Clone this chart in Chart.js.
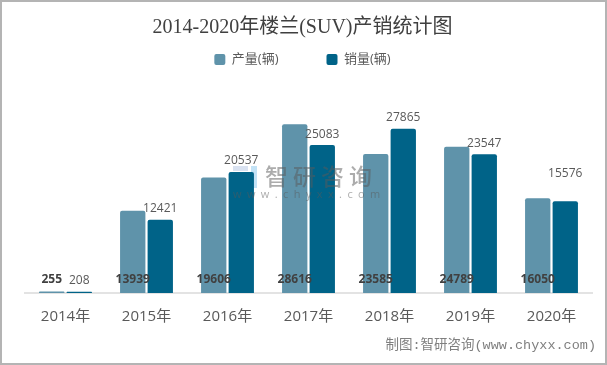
<!DOCTYPE html>
<html>
<head>
<meta charset="utf-8">
<style>
  html, body { margin: 0; padding: 0; background: #fff; overflow: hidden; }
  #wrap { width: 607px; height: 365px; }
</style>
</head>
<body>
<div id="wrap"><canvas id="myChart" width="607" height="365"></canvas></div>
<script src="https://cdn.jsdelivr.net/npm/chart.js@4/dist/chart.umd.min.js"></script>
<script>
var years = ['2014年', '2015年', '2016年', '2017年', '2018年', '2019年', '2020年'];
var production = [255, 13939, 19606, 28616, 23585, 24789, 16050];
var sales = [208, 12421, 20537, 25083, 27865, 23547, 15576];

var latinSerif = '"Liberation Serif", "Noto Sans CJK SC", serif';
var sansFont = '"Open Sans", "Noto Sans CJK SC", sans-serif';

// empty box on the left so title and legend stay centred on the page, not the plot
var leftGap = {
  id: 'leftGap',
  install: function (chart) {
    Chart.layouts.addBox(chart, {
      position: 'left',
      weight: 0,
      fullSize: false,
      options: {},
      isHorizontal: function () { return false; },
      update: function (w, h) { this.width = 12; this.height = h; },
      draw: function () {}
    });
  }
};

// frame, value labels and the watermark are painted by hand
var decorations = {
  id: 'decorations',
  beforeDraw: function (chart) {
    var c = chart.ctx;
    c.save();
    c.fillStyle = '#fff';
    c.fillRect(0, 0, 607, 365);
    c.strokeStyle = '#b4b4b4';
    c.lineWidth = 2;
    c.strokeRect(1, 1, 605, 363);
    c.restore();
  },
  beforeDatasetsDraw: function (chart) {
    // watermark logo sits behind the bars
    var c = chart.ctx;
    c.save();
    c.fillStyle = 'rgba(170,190,225,0.45)';
    c.fillRect(233, 166, 15, 5);
    c.fillRect(233, 175, 15, 5);
    c.fillRect(233, 184, 15, 4);
    c.fillStyle = 'rgba(120,190,235,0.45)';
    c.fillRect(251, 166, 6, 22);
    c.restore();
  },
  afterDraw: function (chart) {
    var c = chart.ctx;
    var zero = chart.scales.y.getPixelForValue(0);
    c.save();

    // watermark text
    c.fillStyle = 'rgba(90,90,90,0.5)';
    c.textAlign = 'left';
    c.textBaseline = 'middle';
    c.font = '500 23px "Noto Sans CJK SC"';
    c.letterSpacing = '5px';
    c.fillText('智研咨询', 265, 176);
    c.font = '11px "Open Sans"';
    c.letterSpacing = '5.4px';
    c.fillText('www.chyxx.com', 233, 195);
    c.letterSpacing = '0px';

    // value labels
    c.textAlign = 'center';
    c.textBaseline = 'middle';
    chart.getDatasetMeta(0).data.forEach(function (bar, i) {
      c.fillStyle = '#404040';
      c.font = 'bold 12px ' + sansFont;
      c.fillText(production[i], bar.x, zero - 13);
    });
    chart.getDatasetMeta(1).data.forEach(function (bar, i) {
      c.fillStyle = '#595959';
      c.font = '12px ' + sansFont;
      // the last label floats higher in the original
      var lift = i === sales.length - 1 ? 28 : 11;
      c.fillText(sales[i], bar.x, bar.y - lift);
    });

    // source line
    c.fillStyle = '#7f7f7f';
    c.textAlign = 'right';
    c.font = '13.5px "Liberation Mono", "Noto Sans CJK SC"';
    c.fillText('制图:智研咨询(www.chyxx.com)', 596, 345);
    c.restore();
  }
};

var ctx = document.getElementById('myChart').getContext('2d');
var myChart = new Chart(ctx, {
  type: 'bar',
  plugins: [leftGap, decorations],
  data: {
    labels: years,
    datasets: [{
      label: '产量(辆)',
      data: production,
      backgroundColor: '#5f93aa',
      borderRadius: { topLeft: 2, topRight: 2 },
      borderSkipped: 'bottom'
    }, {
      label: '销量(辆)',
      data: sales,
      backgroundColor: '#006388',
      borderRadius: { topLeft: 2, topRight: 2 },
      borderSkipped: 'bottom'
    }]
  },
  options: {
    responsive: false,
    animation: false,
    layout: { padding: { left: 13, right: 15, top: 5, bottom: 24 } },
    categoryPercentage: 0.68,
    barPercentage: 0.92,
    plugins: {
      tooltip: { enabled: false },
      title: {
        display: true,
        text: '2014-2020年楼兰(SUV)产销统计图',
        color: '#404040',
        font: { family: latinSerif, size: 20, weight: 'normal' },
        padding: { top: 11, bottom: -35 }
      },
      legend: {
        display: true,
        labels: {
          color: '#595959',
          font: { family: sansFont, size: 13 },
          boxWidth: 11,
          boxHeight: 11,
          padding: 48,
          useBorderRadius: true,
          borderRadius: 2
        }
      }
    },
    scales: {
      x: {
        grid: { display: false, drawTicks: false },
        border: { color: '#e3e3e3', width: 2 },
        ticks: { color: '#595959', font: { family: sansFont, size: 15 }, padding: 15 }
      },
      y: {
        display: false,
        min: 0,
        max: 36800
      }
    }
  }
});
</script>
</body>
</html>
